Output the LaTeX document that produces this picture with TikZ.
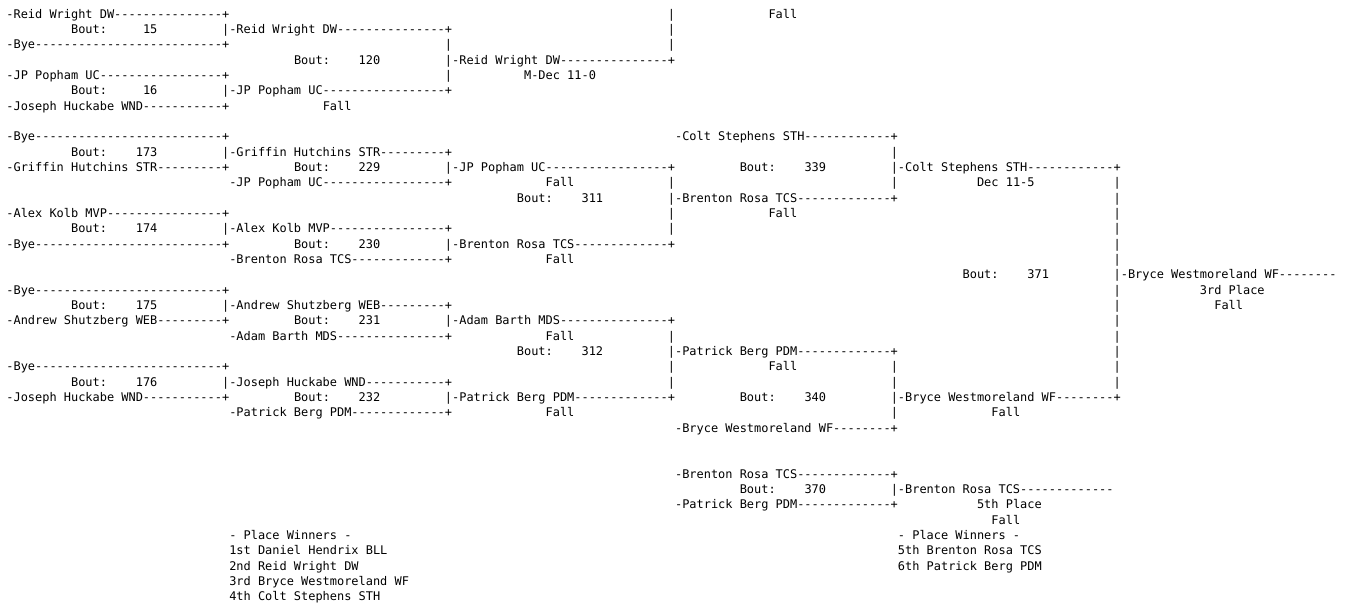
\documentclass[tikz,border=0pt]{standalone}
\usepackage{fontspec}
\setmonofont{DejaVu Sans Mono}
\ExplSyntaxOn
\cs_new:Npn \dashrun #1 { \prg_replicate:nn {#1} {-} }
\ExplSyntaxOff
\tikzset{txt/.style={anchor=base west, inner sep=0pt, outer sep=0pt, text=black,
  font=\ttfamily\fontsize{11.94}{14}\selectfont}}
\newcommand\tx[3]{\node[txt] (r#1c#2) at ({6.4+7.19*#2},{-18.3-15.33*#1}) {#3};}
\newcommand\bt[3]{%
  \node[txt] (b#1c#2) at ({6.4+7.19*#2},{-18.3-15.33*#1}) {Bout:};
  \node[txt, anchor=base east] (n#1c#2) at ({6.4+7.19*(#2+12)},{-18.3-15.33*#1}) {#3};}
\begin{document}
\begin{tikzpicture}[x=1pt,y=1pt]
\useasboundingbox (0,0) rectangle (1347,-608);
% round 1
\tx{0}{0}{-Reid Wright DW\dashrun{15}+}
\tx{2}{0}{-Bye\dashrun{26}+}
\tx{4}{0}{-JP Popham UC\dashrun{17}+}
\tx{6}{0}{-Joseph Huckabe WND\dashrun{11}+}
\tx{8}{0}{-Bye\dashrun{26}+}
\tx{10}{0}{-Griffin Hutchins STR\dashrun{9}+}
\tx{13}{0}{-Alex Kolb MVP\dashrun{16}+}
\tx{15}{0}{-Bye\dashrun{26}+}
\tx{18}{0}{-Bye\dashrun{26}+}
\tx{20}{0}{-Andrew Shutzberg WEB\dashrun{9}+}
\tx{23}{0}{-Bye\dashrun{26}+}
\tx{25}{0}{-Joseph Huckabe WND\dashrun{11}+}
% bouts
\bt{1}{9}{15}
\bt{5}{9}{16}
\bt{9}{9}{173}
\bt{14}{9}{174}
\bt{19}{9}{175}
\bt{24}{9}{176}
\bt{3}{40}{120}
\bt{10}{40}{229}
\bt{15}{40}{230}
\bt{20}{40}{231}
\bt{25}{40}{232}
\bt{12}{71}{311}
\bt{22}{71}{312}
\bt{10}{102}{339}
\bt{25}{102}{340}
\bt{31}{102}{370}
\bt{17}{133}{371}
% round 2
\tx{1}{30}{|-Reid Wright DW\dashrun{15}+}
\tx{5}{30}{|-JP Popham UC\dashrun{17}+}
\tx{9}{30}{|-Griffin Hutchins STR\dashrun{9}+}
\tx{14}{30}{|-Alex Kolb MVP\dashrun{16}+}
\tx{19}{30}{|-Andrew Shutzberg WEB\dashrun{9}+}
\tx{24}{30}{|-Joseph Huckabe WND\dashrun{11}+}
\tx{11}{31}{-JP Popham UC\dashrun{17}+}
\tx{16}{31}{-Brenton Rosa TCS\dashrun{13}+}
\tx{21}{31}{-Adam Barth MDS\dashrun{15}+}
\tx{26}{31}{-Patrick Berg PDM\dashrun{13}+}
\tx{6}{44}{Fall}
% round 3
\tx{2}{61}{|}
\tx{4}{61}{|}
\tx{3}{61}{|-Reid Wright DW\dashrun{15}+}
\tx{10}{61}{|-JP Popham UC\dashrun{17}+}
\tx{15}{61}{|-Brenton Rosa TCS\dashrun{13}+}
\tx{20}{61}{|-Adam Barth MDS\dashrun{15}+}
\tx{25}{61}{|-Patrick Berg PDM\dashrun{13}+}
\tx{4}{72}{M-Dec 11-0}
\tx{11}{75}{Fall}
\tx{16}{75}{Fall}
\tx{21}{75}{Fall}
\tx{26}{75}{Fall}
% round 4
\tx{0}{92}{|}
\tx{1}{92}{|}
\tx{2}{92}{|}
\tx{11}{92}{|}
\tx{13}{92}{|}
\tx{14}{92}{|}
\tx{12}{92}{|-Brenton Rosa TCS\dashrun{13}+}
\tx{21}{92}{|}
\tx{23}{92}{|}
\tx{24}{92}{|}
\tx{22}{92}{|-Patrick Berg PDM\dashrun{13}+}
\tx{0}{106}{Fall}
\tx{13}{106}{Fall}
\tx{23}{106}{Fall}
\tx{8}{93}{-Colt Stephens STH\dashrun{12}+}
\tx{27}{93}{-Bryce Westmoreland WF\dashrun{8}+}
\tx{30}{93}{-Brenton Rosa TCS\dashrun{13}+}
\tx{32}{93}{-Patrick Berg PDM\dashrun{13}+}
% round 5
\tx{9}{123}{|}
\tx{11}{123}{|}
\tx{10}{123}{|-Colt Stephens STH\dashrun{12}+}
\tx{23}{123}{|}
\tx{24}{123}{|}
\tx{26}{123}{|}
\tx{25}{123}{|-Bryce Westmoreland WF\dashrun{8}+}
\tx{31}{123}{|-Brenton Rosa TCS\dashrun{13}}
\tx{11}{135}{Dec 11-5}
\tx{26}{137}{Fall}
\tx{32}{135}{5th Place}
\tx{33}{137}{Fall}
% round 6
\foreach \r in {11,...,16,18,19,...,24} {\tx{\r}{154}{|}}
\tx{17}{154}{|-Bryce Westmoreland WF\dashrun{8}}
\tx{18}{166}{3rd Place}
\tx{19}{168}{Fall}
% place winners
\tx{34}{31}{- Place Winners -}
\tx{35}{31}{1st Daniel Hendrix BLL}
\tx{36}{31}{2nd Reid Wright DW}
\tx{37}{31}{3rd Bryce Westmoreland WF}
\tx{38}{31}{4th Colt Stephens STH}
\tx{34}{124}{- Place Winners -}
\tx{35}{124}{5th Brenton Rosa TCS}
\tx{36}{124}{6th Patrick Berg PDM}
\end{tikzpicture}
\end{document}
